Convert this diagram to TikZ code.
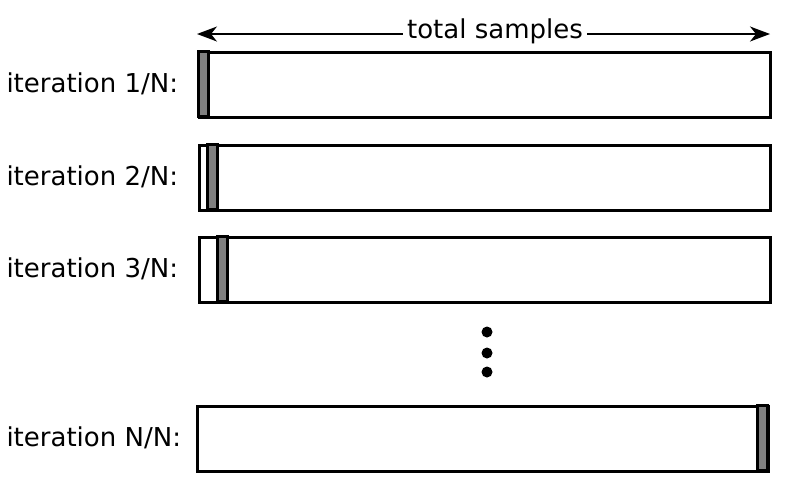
\documentclass[tikz,border=0pt]{standalone}
\usepackage{fontspec}
\setmainfont{DejaVu Sans}
\usetikzlibrary{arrows.meta}
\begin{document}
\begin{tikzpicture}[x=1pt,y=-1pt,line width=3pt,
  lab/.style={anchor=west,inner sep=0pt,font=\fontsize{26}{30}\selectfont},
  bar/.style={draw,anchor=north west,minimum width=571pt,minimum height=65pt,inner sep=0pt},
  strip/.style={draw,fill=gray}]
\useasboundingbox (0,0) rectangle (800,485);
% top arrow
\node[lab,anchor=center,inner sep=3pt] (ts) at (495,31) {total samples};
\coordinate (tl) at (197,34);
\coordinate (tr) at (770,34);
\draw[line width=1.6pt,-{Stealth[length=20pt,width=15pt,inset=6pt]}] (ts.west|-tl)--(tl);
\draw[line width=1.6pt,-{Stealth[length=20pt,width=15pt,inset=6pt]}] (ts.east|-tr)--(tr);
% bars
\foreach \i/\x/\y/\s in {1/198/51/198,2/198/144/207,3/198/236/217,N/196/405/757}{
  \node[bar] (b\i) at (\x,\y) {};
  \draw[strip] (\s,\y) rectangle ++(10,65);
  \node[lab] (l\i) at (5,\y+33) {iteration \i/N:};
}
% dots
\foreach \d/\y in {1/332,2/353,3/372}
  \fill (487,\y) circle (5.5) coordinate (d\d);
\end{tikzpicture}
\end{document}
